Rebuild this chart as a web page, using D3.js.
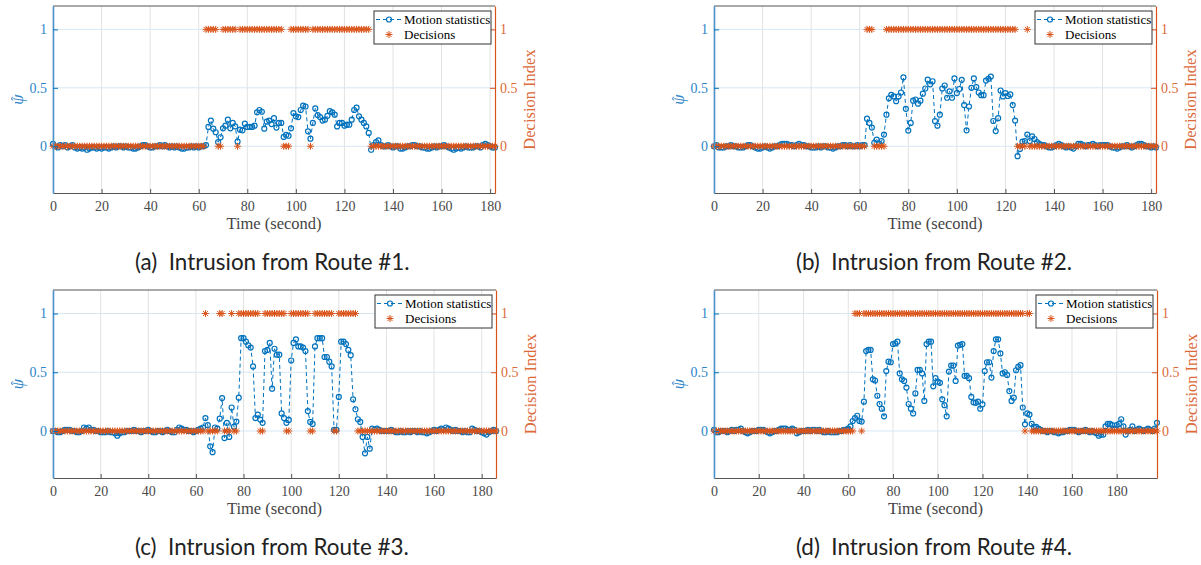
<!DOCTYPE html>
<html>
<head>
<meta charset="utf-8">
<title>Motion statistics and decisions</title>
<style>
  body { margin: 0; background: #fff; }
  svg { display: block; }
  .tick text { font-family: "Liberation Serif", "Times New Roman", serif; font-size: 14px; }
  .axis-title { font-family: "Liberation Serif", "Times New Roman", serif; font-size: 16.5px; }
  .legend text { font-family: "Liberation Serif", "Times New Roman", serif; font-size: 13px; fill: #000; }
  .caption { font-family: Lato, "Noto Sans", sans-serif; font-size: 22.4px; fill: #222; white-space: pre; }
</style>
</head>
<body>
<div id="chart"></div>
<script src="https://cdn.jsdelivr.net/npm/d3@7"></script>
<script>
// one value per second, starting at t = 0
var motionA = [
  0.02, 0.00, -0.01, 0.01, 0.00, 0.01, -0.01, 0.00, 0.01, -0.01,
  -0.02, -0.01, -0.02, -0.01, -0.03, -0.02, -0.01, -0.01, -0.02, -0.01,
  -0.02, -0.01, -0.01, -0.02, -0.01, 0.00, -0.01, 0.00, 0.00, -0.01,
  0.00, -0.01, -0.01, -0.02, -0.02, -0.01, 0.00, 0.01, 0.01, 0.00,
  -0.01, -0.01, 0.00, 0.00, 0.01, 0.00, 0.01, 0.00, -0.01, 0.00,
  -0.01, 0.00, -0.01, -0.02, -0.02, -0.01, -0.01, 0.00, -0.01, 0.00,
  -0.01, 0.00, 0.00, 0.01, 0.165, 0.22, 0.15, 0.12, 0.035, 0.077,
  0.153, 0.176, 0.227, 0.153, 0.2, 0.17, 0.04, 0.142, 0.136, 0.193,
  0.165, 0.165, 0.165, 0.176, 0.29, 0.31, 0.295, 0.15, 0.21, 0.22,
  0.19, 0.24, 0.16, 0.2, 0.2, 0.08, 0.097, 0.09, 0.153, 0.284,
  0.256, 0.25, 0.31, 0.347, 0.34, 0.128, 0.065, 0.2, 0.324, 0.267,
  0.25, 0.22, 0.227, 0.26, 0.3, 0.29, 0.27, 0.17, 0.2, 0.2,
  0.176, 0.185, 0.185, 0.227, 0.31, 0.33, 0.256, 0.227, 0.2, 0.17,
  0.114, -0.03, 0.01, 0.035, 0.05, 0.01, 0.00, 0.00, 0.01, 0.00,
  -0.01, 0.00, 0.00, -0.02, -0.02, -0.01, 0.00, 0.00, 0.01, 0.01,
  0.00, 0.00, -0.01, -0.01, -0.02, -0.02, -0.01, 0.00, -0.01, 0.00,
  0.00, 0.01, 0.00, -0.01, -0.02, -0.03, -0.02, -0.01, -0.02, -0.01,
  0.00, -0.01, -0.01, -0.01, 0.00, 0.00, -0.01, 0.01, 0.02, 0.01,
  0.00, -0.01, -0.01
];
var decisionA = [
  0, 0, 0, 0, 0, 0, 0, 0, 0, 0,
  0, 0, 0, 0, 0, 0, 0, 0, 0, 0,
  0, 0, 0, 0, 0, 0, 0, 0, 0, 0,
  0, 0, 0, 0, 0, 0, 0, 0, 0, 0,
  0, 0, 0, 0, 0, 0, 0, 0, 0, 0,
  0, 0, 0, 0, 0, 0, 0, 0, 0, 0,
  0, 0, 0, 1, 1, 1, 1, 1, 0, 0,
  1, 1, 1, 1, 1, 1, 0, 1, 1, 1,
  1, 1, 1, 1, 1, 1, 1, 1, 1, 1,
  1, 1, 1, 1, 1, 0, 0, 0, 1, 1,
  1, 1, 1, 1, 1, 1, 0, 1, 1, 1,
  1, 1, 1, 1, 1, 1, 1, 1, 1, 1,
  1, 1, 1, 1, 1, 1, 1, 1, 1, 1,
  1, 0, 0, 0, 0, 0, 0, 0, 0, 0,
  0, 0, 0, 0, 0, 0, 0, 0, 0, 0,
  0, 0, 0, 0, 0, 0, 0, 0, 0, 0,
  0, 0, 0, 0, 0, 0, 0, 0, 0, 0,
  0, 0, 0, 0, 0, 0, 0, 0, 0, 0,
  0, 0, 0
];

var motionB = [
  0.00, 0.01, -0.01, -0.01, -0.01, 0.00, 0.00, 0.01, 0.00, 0.00,
  -0.01, -0.01, -0.01, 0.00, 0.01, 0.01, 0.00, -0.01, -0.02, -0.02,
  -0.01, 0.00, -0.01, -0.02, -0.01, 0.00, 0.00, 0.01, 0.02, 0.02,
  0.02, 0.01, 0.01, 0.00, 0.01, 0.02, 0.01, 0.01, 0.00, 0.00,
  -0.01, -0.01, -0.01, 0.00, -0.01, 0.00, 0.00, -0.01, -0.01, -0.02,
  -0.01, 0.00, 0.00, 0.01, 0.01, 0.00, 0.01, 0.00, 0.00, 0.01,
  0.00, 0.01, 0.01, 0.236, 0.2, 0.16, 0.03, 0.057, 0.023, 0.045,
  0.1, 0.27, 0.41, 0.44, 0.426, 0.386, 0.426, 0.46, 0.59, 0.32,
  0.134, 0.2, 0.39, 0.4, 0.364, 0.39, 0.45, 0.494, 0.57, 0.53,
  0.556, 0.216, 0.176, 0.27, 0.494, 0.52, 0.415, 0.47, 0.415, 0.58,
  0.455, 0.49, 0.568, 0.352, 0.136, 0.34, 0.5, 0.58, 0.506, 0.46,
  0.437, 0.437, 0.562, 0.577, 0.596, 0.216, 0.13, 0.24, 0.477, 0.426,
  0.455, 0.43, 0.443, 0.352, 0.22, -0.085, -0.023, 0.04, 0.045, 0.1,
  0.045, 0.085, 0.062, 0.035, 0.02, 0.01, 0.01, 0.00, -0.01, -0.01,
  0.00, 0.01, 0.02, 0.01, 0.00, -0.01, 0.00, -0.01, -0.02, 0.00,
  0.02, 0.02, 0.01, 0.00, 0.01, 0.01, 0.02, 0.01, 0.00, 0.01,
  0.01, 0.01, 0.01, 0.00, -0.01, -0.01, -0.02, -0.01, 0.00, 0.00,
  0.01, 0.00, -0.01, 0.00, 0.01, 0.02, 0.02, 0.01, 0.00, 0.00,
  -0.01, 0.00, -0.01
];
var decisionB = [
  0, 0, 0, 0, 0, 0, 0, 0, 0, 0,
  0, 0, 0, 0, 0, 0, 0, 0, 0, 0,
  0, 0, 0, 0, 0, 0, 0, 0, 0, 0,
  0, 0, 0, 0, 0, 0, 0, 0, 0, 0,
  0, 0, 0, 0, 0, 0, 0, 0, 0, 0,
  0, 0, 0, 0, 0, 0, 0, 0, 0, 0,
  0, 0, 0, 1, 1, 1, 0, 0, 0, 0,
  0, 1, 1, 1, 1, 1, 1, 1, 1, 1,
  1, 1, 1, 1, 1, 1, 1, 1, 1, 1,
  1, 1, 1, 1, 1, 1, 1, 1, 1, 1,
  1, 1, 1, 1, 1, 1, 1, 1, 1, 1,
  1, 1, 1, 1, 1, 1, 1, 1, 1, 1,
  1, 1, 1, 1, 1, 0, 0, 0, 0, 1,
  0, 0, 0, 0, 0, 0, 0, 0, 0, 0,
  0, 0, 0, 0, 0, 0, 0, 0, 0, 0,
  0, 0, 0, 0, 0, 0, 0, 0, 0, 0,
  0, 0, 0, 0, 0, 0, 0, 0, 0, 0,
  0, 0, 0, 0, 0, 0, 0, 0, 0, 0,
  0, 0, 0
];

var motionC = [
  0.00, 0.00, -0.01, -0.01, 0.00, 0.01, 0.01, 0.01, 0.00, 0.00,
  -0.01, -0.01, 0.00, 0.03, 0.02, 0.03, 0.01, 0.01, 0.00, 0.00,
  -0.01, -0.01, -0.01, 0.00, -0.01, -0.01, -0.02, -0.04, -0.02, -0.01,
  -0.01, 0.00, 0.00, 0.00, 0.01, 0.00, 0.00, -0.01, 0.00, 0.00,
  0.01, 0.00, -0.01, -0.01, 0.00, 0.00, -0.01, 0.00, 0.01, 0.00,
  -0.01, -0.01, 0.01, 0.03, 0.02, 0.01, 0.01, 0.00, 0.00, -0.01,
  0.00, 0.01, 0.02, 0.03, 0.11, 0.05, -0.13, -0.18, 0.03, 0.02,
  0.105, 0.28, -0.06, 0.07, -0.05, 0.2, 0.037, 0.08, 0.284, 0.79,
  0.79, 0.76, 0.73, 0.71, 0.55, 0.11, 0.14, 0.097, 0.07, 0.68,
  0.69, 0.75, 0.36, 0.7, 0.65, 0.65, 0.15, 0.11, 0.07, 0.094,
  0.6, 0.75, 0.78, 0.72, 0.72, 0.71, 0.68, 0.17, 0.077, 0.06,
  0.72, 0.79, 0.79, 0.79, 0.63, 0.63, 0.59, 0.55, 0.01, 0.01,
  0.29, 0.76, 0.76, 0.74, 0.69, 0.645, 0.27, 0.185, 0.1, 0.077,
  -0.05, -0.19, -0.05, -0.15, 0.02, 0.01, 0.02, 0.01, 0.00, 0.00,
  0.00, 0.00, 0.01, 0.00, -0.01, -0.01, 0.00, -0.01, -0.01, 0.00,
  -0.01, 0.00, 0.00, -0.01, 0.00, -0.01, -0.01, -0.02, -0.01, 0.00,
  0.01, 0.00, 0.01, 0.02, 0.01, 0.03, 0.02, 0.01, 0.00, 0.01,
  0.00, 0.00, -0.01, 0.00, -0.01, -0.01, 0.02, 0.01, 0.00, 0.00,
  -0.01, -0.02, -0.03, -0.01, 0.00, 0.01, 0.00
];
var decisionC = [
  0, 0, 0, 0, 0, 0, 0, 0, 0, 0,
  0, 0, 0, 0, 0, 0, 0, 0, 0, 0,
  0, 0, 0, 0, 0, 0, 0, 0, 0, 0,
  0, 0, 0, 0, 0, 0, 0, 0, 0, 0,
  0, 0, 0, 0, 0, 0, 0, 0, 0, 0,
  0, 0, 0, 0, 0, 0, 0, 0, 0, 0,
  0, 0, 0, 0, 1, 0, 0, 0, 0, 0,
  1, 1, 0, 0, 0, 1, 0, 0, 1, 1,
  1, 1, 1, 1, 1, 1, 1, 0, 0, 1,
  1, 1, 1, 1, 1, 1, 1, 1, 0, 0,
  1, 1, 1, 1, 1, 1, 1, 1, 0, 0,
  1, 1, 1, 1, 1, 1, 1, 1, 0, 0,
  1, 1, 1, 1, 1, 1, 1, 1, 0, 0,
  0, 0, 0, 0, 0, 0, 0, 0, 0, 0,
  0, 0, 0, 0, 0, 0, 0, 0, 0, 0,
  0, 0, 0, 0, 0, 0, 0, 0, 0, 0,
  0, 0, 0, 0, 0, 0, 0, 0, 0, 0,
  0, 0, 0, 0, 0, 0, 0, 0, 0, 0,
  0, 0, 0, 0, 0, 0, 0
];

var motionD = [
  0.01, -0.01, -0.01, 0.00, 0.00, 0.00, -0.01, 0.00, 0.01, 0.00,
  0.01, 0.01, 0.02, 0.00, -0.01, -0.02, -0.01, 0.00, 0.00, 0.00,
  0.01, 0.01, 0.01, 0.00, -0.01, -0.02, -0.01, 0.00, 0.00, 0.01,
  0.02, 0.02, 0.02, 0.01, 0.01, 0.02, 0.01, -0.02, -0.01, 0.00,
  0.00, 0.00, 0.01, 0.00, 0.01, 0.01, 0.00, 0.01, 0.00, -0.01,
  -0.01, 0.00, -0.01, -0.01, -0.01, -0.01, 0.00, 0.00, 0.01, 0.01,
  0.02, 0.04, 0.085, 0.11, 0.13, 0.085, 0.08, 0.25, 0.68, 0.69,
  0.69, 0.44, 0.43, 0.3, 0.23, 0.19, 0.125, 0.51, 0.59, 0.585,
  0.74, 0.745, 0.76, 0.49, 0.44, 0.426, 0.37, 0.23, 0.19, 0.15,
  0.32, 0.52, 0.52, 0.49, 0.256, 0.74, 0.76, 0.76, 0.38, 0.45,
  0.42, 0.41, 0.27, 0.22, 0.125, 0.506, 0.557, 0.557, 0.426, 0.727,
  0.733, 0.74, 0.47, 0.47, 0.45, 0.29, 0.244, 0.24, 0.25, 0.19,
  0.227, 0.51, 0.585, 0.585, 0.455, 0.68, 0.78, 0.78, 0.66, 0.49,
  0.5, 0.477, 0.34, 0.256, 0.284, 0.517, 0.545, 0.56, 0.2, 0.057,
  0.15, 0.14, 0.06, 0.035, 0.035, 0.02, 0.01, 0.00, 0.00, -0.01,
  0.00, 0.00, -0.01, -0.01, -0.02, -0.01, -0.01, 0.00, 0.00, 0.01,
  0.01, 0.01, 0.00, -0.01, 0.00, 0.00, 0.01, 0.00, -0.01, 0.00,
  -0.01, -0.02, -0.04, -0.03, -0.03, 0.04, 0.06, 0.06, 0.05, 0.02,
  0.05, 0.06, 0.10, 0.04, -0.03, 0.00, 0.01, 0.04, 0.00, 0.01,
  0.02, 0.01, 0.00, 0.01, 0.02, 0.01, 0.00, 0.02, 0.07
];
var decisionD = [
  0, 0, 0, 0, 0, 0, 0, 0, 0, 0,
  0, 0, 0, 0, 0, 0, 0, 0, 0, 0,
  0, 0, 0, 0, 0, 0, 0, 0, 0, 0,
  0, 0, 0, 0, 0, 0, 0, 0, 0, 0,
  0, 0, 0, 0, 0, 0, 0, 0, 0, 0,
  0, 0, 0, 0, 0, 0, 0, 0, 0, 0,
  0, 0, 0, 1, 1, 1, 0, 1, 1, 1,
  1, 1, 1, 1, 1, 1, 1, 1, 1, 1,
  1, 1, 1, 1, 1, 1, 1, 1, 1, 1,
  1, 1, 1, 1, 1, 1, 1, 1, 1, 1,
  1, 1, 1, 1, 1, 1, 1, 1, 1, 1,
  1, 1, 1, 1, 1, 1, 1, 1, 1, 1,
  1, 1, 1, 1, 1, 1, 1, 1, 1, 1,
  1, 1, 1, 1, 1, 1, 1, 1, 1, 0,
  1, 1, 0, 0, 0, 0, 0, 0, 0, 0,
  0, 0, 0, 0, 0, 0, 0, 0, 0, 0,
  0, 0, 0, 0, 0, 0, 0, 0, 0, 0,
  0, 0, 0, 0, 0, 0, 0, 0, 0, 0,
  0, 0, 0, 0, 0, 0, 0, 0, 0, 0,
  0, 0, 0, 0, 0, 0, 0, 0, 0
];

var xTicks = [0, 20, 40, 60, 80, 100, 120, 140, 160, 180];
var yTicks = [0, 0.5, 1];
var seriesNames = ["Motion statistics", "Decisions"];
var captions = [
  "(a)  Intrusion from Route #1.",
  "(b)  Intrusion from Route #2.",
  "(c)  Intrusion from Route #3.",
  "(d)  Intrusion from Route #4."
];

var blue = "#0072BD";
var orange = "#D95319";
var star = "M-3.5,0H3.5M0,-3.5V3.5M-2.5,-2.5L2.5,2.5M-2.5,2.5L2.5,-2.5";

var svg = d3.select("#chart").append("svg")
  .attr("width", 1201)
  .attr("height", 565);

var panels = [
  { motion: motionA, decision: decisionA, xMax: 182, left: 53, top: 6, right: 495, bottom: 193, caption: captions[0], capX: 135, capY: 270 },
  { motion: motionB, decision: decisionB, xMax: 182, left: 714, top: 6, right: 1156, bottom: 193, caption: captions[1], capX: 796, capY: 270 },
  { motion: motionC, decision: decisionC, xMax: 186, left: 53, top: 290, right: 496, bottom: 478, caption: captions[2], capX: 135, capY: 555 },
  { motion: motionD, decision: decisionD, xMax: 198, left: 714, top: 290, right: 1157, bottom: 478, caption: captions[3], capX: 796, capY: 555 }
];

panels.forEach(drawPanel);

function drawPanel(p) {
  var x = d3.scaleLinear().domain([0, p.xMax]).range([p.left, p.right]);
  var y = d3.scaleLinear().domain([-0.4, 1.2]).range([p.bottom, p.top]);
  var g = svg.append("g");

  // grid
  g.selectAll(".vgrid").data(xTicks).enter().append("line")
    .attr("x1", d => x(d)).attr("x2", d => x(d))
    .attr("y1", p.top).attr("y2", p.bottom)
    .attr("stroke", "#e2e2e2").attr("stroke-width", 1);
  g.selectAll(".hgrid").data(yTicks).enter().append("line")
    .attr("x1", p.left).attr("x2", p.right)
    .attr("y1", d => y(d)).attr("y2", d => y(d))
    .attr("stroke", "#d6e7f4").attr("stroke-width", 1);

  // motion statistics
  var line = d3.line().x((d, i) => x(i)).y(d => y(d));
  g.append("path")
    .datum(p.motion)
    .attr("d", line)
    .attr("fill", "none")
    .attr("stroke", blue)
    .attr("stroke-width", 1)
    .attr("stroke-dasharray", "4,3");
  g.selectAll(".pt").data(p.motion).enter().append("circle")
    .attr("cx", (d, i) => x(i))
    .attr("cy", d => y(d))
    .attr("r", 2.5)
    .attr("fill", "none")
    .attr("stroke", blue)
    .attr("stroke-width", 1.2);

  // decisions
  g.selectAll(".dec").data(p.decision).enter().append("path")
    .attr("d", star)
    .attr("transform", (d, i) => "translate(" + x(i) + "," + y(d) + ")")
    .attr("fill", "none")
    .attr("stroke", orange)
    .attr("stroke-width", 1);

  // axes
  g.append("line")
    .attr("x1", p.left).attr("x2", p.right)
    .attr("y1", p.top).attr("y2", p.top)
    .attr("stroke", "#555").attr("stroke-width", 1);

  var xAxis = g.append("g")
    .attr("transform", "translate(0," + p.bottom + ")")
    .call(d3.axisBottom(x).tickValues(xTicks).tickSizeInner(-4).tickSizeOuter(0).tickPadding(8).tickFormat(d3.format("d")));
  xAxis.select(".domain").attr("stroke", "#555");
  xAxis.selectAll(".tick line").attr("stroke", "#555");
  xAxis.selectAll(".tick text").attr("fill", "#4a4a4a");

  var yLeft = g.append("g")
    .attr("transform", "translate(" + p.left + ",0)")
    .call(d3.axisLeft(y).tickValues(yTicks).tickSizeInner(-5).tickSizeOuter(0).tickPadding(6).tickFormat(d3.format("")));
  yLeft.select(".domain").attr("stroke", "#4b95cf").attr("stroke-width", 1.6);
  yLeft.selectAll(".tick line").attr("stroke", blue);
  yLeft.selectAll(".tick text").attr("fill", "#2d85c8");

  var yRight = g.append("g")
    .attr("transform", "translate(" + p.right + ",0)")
    .call(d3.axisRight(y).tickValues(yTicks).tickSizeInner(-5).tickSizeOuter(0).tickPadding(5).tickFormat(d3.format("")));
  yRight.select(".domain").attr("stroke", orange).attr("stroke-width", 1.2);
  yRight.selectAll(".tick line").attr("stroke", orange);
  yRight.selectAll(".tick text").attr("fill", "#dc6a3a");

  // axis titles
  var cy = (p.top + p.bottom) / 2;
  g.append("text")
    .attr("class", "axis-title")
    .attr("text-anchor", "middle")
    .attr("x", (p.left + p.right) / 2)
    .attr("y", p.bottom + 36)
    .attr("fill", "#444")
    .text("Time (second)");
  g.append("text")
    .attr("class", "axis-title")
    .attr("text-anchor", "middle")
    .attr("transform", "translate(" + (p.right + 40) + "," + cy + ") rotate(-90)")
    .attr("fill", "#dc6a3a")
    .text("Decision Index");

  // psi with a hat, rotated like the other y title
  var psi = g.append("g")
    .attr("class", "axis-title")
    .attr("transform", "translate(" + (p.left - 30) + "," + cy + ") rotate(-90)")
    .attr("fill", "#2d85c8");
  psi.append("text")
    .attr("text-anchor", "middle")
    .attr("font-style", "italic")
    .text("\u03c8");
  psi.append("text")
    .attr("text-anchor", "middle")
    .attr("x", 1)
    .attr("y", -3)
    .attr("font-size", "13px")
    .text("\u02c6");

  // legend
  var lx = p.right - 121, ly = p.top + 5;
  var leg = g.append("g").attr("class", "legend");
  leg.append("rect")
    .attr("x", lx).attr("y", ly)
    .attr("width", 117).attr("height", 33)
    .attr("fill", "#fff").attr("stroke", "#333").attr("stroke-width", 1);
  leg.append("line")
    .attr("x1", lx + 2).attr("x2", lx + 28)
    .attr("y1", ly + 8.5).attr("y2", ly + 8.5)
    .attr("stroke", blue).attr("stroke-dasharray", "4,3");
  leg.append("circle")
    .attr("cx", lx + 15).attr("cy", ly + 8.5).attr("r", 2.5)
    .attr("fill", "none").attr("stroke", blue).attr("stroke-width", 1.2);
  leg.append("path")
    .attr("d", star)
    .attr("transform", "translate(" + (lx + 15) + "," + (ly + 23.5) + ")")
    .attr("fill", "none").attr("stroke", orange);
  leg.selectAll(".lt").data(seriesNames).enter().append("text")
    .attr("x", lx + 30)
    .attr("y", (d, i) => ly + 13 + i * 15)
    .text(d => d);

  // caption
  svg.append("text")
    .attr("class", "caption")
    .attr("x", p.capX)
    .attr("y", p.capY)
    .text(p.caption);
}
</script>
</body>
</html>
